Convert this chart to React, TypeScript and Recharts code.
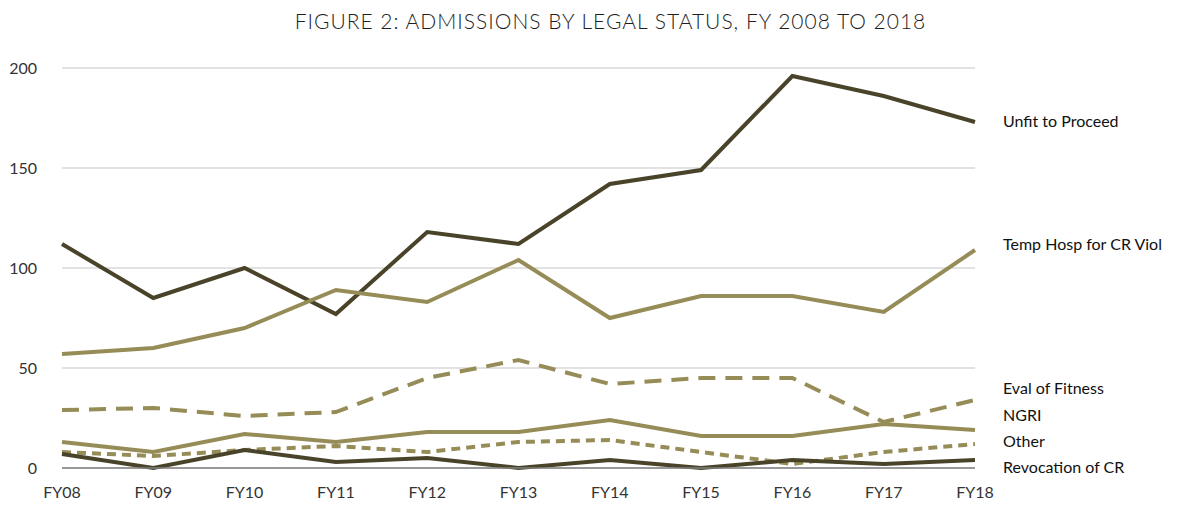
import { LineChart, Line, XAxis, YAxis, CartesianGrid } from 'recharts';

const years = ['FY08', 'FY09', 'FY10', 'FY11', 'FY12', 'FY13', 'FY14', 'FY15', 'FY16', 'FY17', 'FY18'];

const unfit = [112, 85, 100, 77, 118, 112, 142, 149, 196, 186, 173];
const tempHosp = [57, 60, 70, 89, 83, 104, 75, 86, 86, 78, 109];
const evalFitness = [29, 30, 26, 28, 45, 54, 42, 45, 45, 23, 34];
const ngri = [13, 8, 17, 13, 18, 18, 24, 16, 16, 22, 19];
const other = [8, 6, 9, 11, 8, 13, 14, 8, 2, 8, 12];
const revocation = [7, 0, 9, 3, 5, 0, 4, 0, 4, 2, 4];

const yTicks = [0, 50, 100, 150, 200];

const DARK = '#494429';
const OLIVE = '#968c57';
const FONT = 'Lato, "Open Sans", sans-serif';

const data = years.map((fy, i) => ({
  fy,
  unfit: unfit[i],
  tempHosp: tempHosp[i],
  evalFitness: evalFitness[i],
  ngri: ngri[i],
  other: other[i],
  revocation: revocation[i],
}));

// series style + where the end label sits relative to the last point
const series = [
  { key: 'unfit', name: 'Unfit to Proceed', color: DARK, dash: undefined, dy: -2 },
  { key: 'tempHosp', name: 'Temp Hosp for CR Viol', color: OLIVE, dash: undefined, dy: -7 },
  { key: 'evalFitness', name: 'Eval of Fitness', color: OLIVE, dash: '17 10', dy: -13 },
  { key: 'ngri', name: 'NGRI', color: OLIVE, dash: undefined, dy: -16 },
  { key: 'other', name: 'Other', color: OLIVE, dash: '9 6', dy: -4 },
  { key: 'revocation', name: 'Revocation of CR', color: DARK, dash: undefined, dy: 6 },
];

const endLabel = (name: string, dy: number) => (props: any) => {
  const { x, y, index } = props;
  if (index !== years.length - 1) return null;
  return (
    <text
      x={x + 28}
      y={y + dy}
      dominantBaseline="central"
      fill="#111"
      fontSize={16}
      fontFamily={FONT}
    >
      {name}
    </text>
  );
};

export default function App() {
  return (
    <div style={{ position: 'absolute', left: 0, top: 0, width: 1201, height: 506, background: '#fff' }}>
      <div
        style={{
          position: 'absolute',
          top: 8,
          left: 0,
          width: 1221,
          textAlign: 'center',
          fontFamily: FONT,
          fontWeight: 300,
          fontSize: 21,
          color: '#1e1e1e',
          letterSpacing: 1,
        }}
      >
        FIGURE 2: ADMISSIONS BY LEGAL STATUS, FY 2008 TO 2018
      </div>
      <LineChart
        width={1201}
        height={506}
        data={data}
        margin={{ top: 68, right: 226, left: 12, bottom: 8 }}
      >
        <CartesianGrid vertical={false} stroke="#d9d9d9" strokeWidth={1.5} />
        <XAxis
          dataKey="fy"
          tickLine={false}
          axisLine={{ stroke: '#7f7f7f', strokeWidth: 1.5 }}
          tickSize={6}
          tickMargin={13}
          height={30}
          interval={0}
          tick={{ fill: '#333', fontSize: 16, fontFamily: FONT }}
        />
        <YAxis
          width={50}
          domain={[0, 200]}
          ticks={yTicks}
          axisLine={false}
          tickLine={false}
          tickSize={6}
          tickMargin={19}
          tick={{ fill: '#333', fontSize: 16, fontFamily: FONT }}
        />
        {series.map((s) => (
          <Line
            key={s.key}
            type="linear"
            dataKey={s.key}
            name={s.name}
            stroke={s.color}
            strokeWidth={4}
            strokeDasharray={s.dash}
            dot={false}
            activeDot={false}
            isAnimationActive={false}
            label={endLabel(s.name, s.dy)}
          />
        ))}
      </LineChart>
    </div>
  );
}
